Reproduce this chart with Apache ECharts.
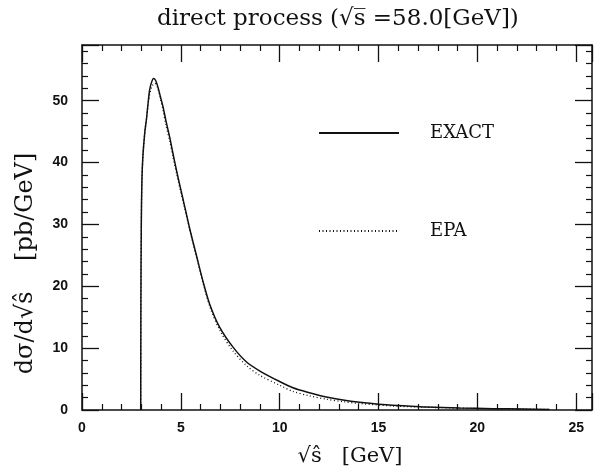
<!DOCTYPE html>
<html>
<head>
<meta charset="utf-8">
<script src="https://cdn.jsdelivr.net/npm/echarts@6/dist/echarts.min.js"></script>
<style>html,body{margin:0;padding:0;background:#fff}#c{width:608px;height:472px}</style>
</head>
<body>
<div id="c"></div>
<script>
// ---- data ----
const exactX = [2.97,2.98,3.00,3.03,3.08,3.18,3.26,3.34,3.42,3.52,3.62,3.72,3.84,3.97,4.10,4.25,4.43,4.60,4.77,5.00,5.11,5.45,5.78,6.12,6.46,6.96,7.63,8.31,9.00,10.0,10.67,11.5,12.36,13.2,14.04,15.7,17.4,19.1,20.8,22.3,23.65];
const exactY = [0,18,30,37,41,45,47,49.5,51.7,53,53.6,53.3,52.2,50.6,49,46.7,44.2,41.5,38.9,35.6,34.1,29.3,25.1,20.8,17.1,13.4,10.2,7.8,6.3,4.6,3.6,2.8,2.1,1.6,1.25,0.75,0.5,0.32,0.22,0.15,0.08];
const epaX = [2.97,2.98,3.00,3.03,3.08,3.18,3.26,3.34,3.42,3.55,3.68,3.80,3.92,4.10,4.25,4.45,4.60,4.80,5.15,5.50,5.83,6.15,6.50,7.00,7.65,8.35,9.00,10.0,10.67,11.5,12.36,13.2,14.04,15.7,17.4,19.1,20.8,22.3,23.65];
const epaY = [0,18,30,37,41,45,47,49.3,51,52.4,52.8,52.3,51,48.5,46,43.3,41,38,33.2,28.5,24.3,20.2,16.4,12.7,9.5,7.1,5.6,4.0,3.0,2.3,1.75,1.35,1.05,0.65,0.45,0.3,0.2,0.14,0.08];
const seriesNames = ['EXACT', 'EPA'];
const xTicks = [0, 5, 10, 15, 20, 25];
const yTicks = [0, 10, 20, 30, 40, 50];

const pairs = (xs, ys) => xs.map((x, i) => [x, ys[i]]);

const chart = echarts.init(document.getElementById('c'), null, {renderer: 'canvas'});
const serif = '"DejaVu Serif", "Liberation Serif", serif';
const tickLabel = {fontFamily: '"Liberation Sans", Arial, sans-serif', fontWeight: 'bold', fontSize: 14, color: '#111'};
const axisLine = {show: true, onZero: false, lineStyle: {color: '#111', width: 1.5}};
const majorTick = {show: true, inside: true, length: 17, lineStyle: {color: '#111', width: 1.3}};
const minorTick = {show: true, splitNumber: 5, length: 6, lineStyle: {color: '#111', width: 1.2}};

chart.setOption({
  animation: false,
  backgroundColor: '#fff',
  title: {
    text: 'direct process (√s̅ =58.0[GeV])',
    left: 152, top: 3,
    textStyle: {fontFamily: serif, fontWeight: 'normal', fontSize: 23, color: '#111'}
  },
  legend: {
    orient: 'vertical', left: 318, top: 124, padding: 0,
    itemWidth: 80, itemHeight: 14, itemGap: 80,
    itemStyle: {opacity: 0},
    data: seriesNames,
    textStyle: {fontFamily: serif, fontSize: 18, color: '#111', padding: [0, 0, 0, 26]}
  },
  grid: {left: 82, right: 16, top: 45, bottom: 58, containLabel: false},
  xAxis: [{
    type: 'value', min: 0, max: 25.8, interval: 5,
    axisLine, axisTick: majorTick, minorTick, splitLine: {show: false},
    axisLabel: Object.assign({margin: 11, showMaxLabel: false,
      formatter: v => xTicks.includes(v) ? String(v) : ''}, tickLabel),
    name: '√ŝ   [GeV]', nameLocation: 'middle', nameGap: 36,
    nameTextStyle: {fontFamily: serif, fontSize: 21, color: '#111', padding: [0, 0, 0, 26]}
  }, {
    type: 'value', position: 'top', min: 0, max: 25.8, interval: 5,
    axisLine, axisTick: majorTick, minorTick, splitLine: {show: false},
    axisLabel: {show: false}
  }],
  yAxis: [{
    type: 'value', min: 0, max: 59, interval: 10,
    axisLine, axisTick: majorTick, minorTick, splitLine: {show: false},
    axisLabel: Object.assign({margin: 14, showMaxLabel: false,
      formatter: v => yTicks.includes(v) ? String(v) : ''}, tickLabel),
    name: 'dσ/d√ŝ    [pb/GeV]', nameLocation: 'middle', nameGap: 44, nameRotate: 90,
    nameTextStyle: {fontFamily: serif, fontSize: 24, color: '#111', padding: [0, 72, 0, 0]}
  }, {
    type: 'value', position: 'right', min: 0, max: 59, interval: 10,
    axisLine, axisTick: majorTick, minorTick, splitLine: {show: false},
    axisLabel: {show: false}
  }],
  series: [{
    name: seriesNames[0], type: 'line', data: pairs(exactX, exactY),
    showSymbol: false, symbol: 'none', smooth: 0.3, color: '#111',
    lineStyle: {color: '#111', width: 1.5}
  }, {
    name: seriesNames[1], type: 'line', data: pairs(epaX, epaY),
    showSymbol: false, symbol: 'none', smooth: 0.3, color: '#111',
    lineStyle: {color: '#111', width: 1.3, type: [1, 2.5]}
  }]
});
</script>
</body>
</html>
